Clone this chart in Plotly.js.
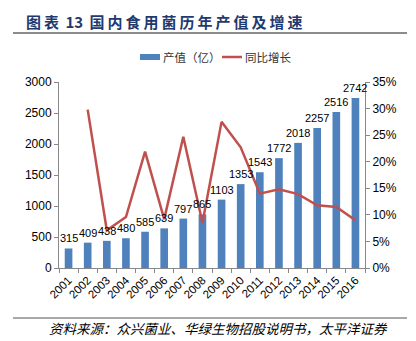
<!DOCTYPE html>
<html><head><meta charset="utf-8">
<script src="https://cdn.plot.ly/plotly-3.0.1.min.js"></script>
<style>html,body{margin:0;padding:0;background:#fff}#chart{width:416px;height:341px}</style>
</head><body><div id="chart"></div>
<script>
const years = ['2001','2002','2003','2004','2005','2006','2007','2008','2009','2010','2011','2012','2013','2014','2015','2016'];
const output = [315,409,438,480,585,639,797,865,1103,1353,1543,1772,2018,2257,2516,2742];
const growth = [null,0.298,0.071,0.096,0.219,0.092,0.247,0.085,0.275,0.227,0.140,0.148,0.139,0.118,0.115,0.090];
const seriesNames = ['产值（亿）','同比增长'];
const titleText = '图表 13 国内食用菌历年产值及增速';
const sourceText = '资料来源：众兴菌业、华绿生物招股说明书，太平洋证券';

const L=59,R=365,T=82,B=268,W=R-L,H=B-T;
const px=x=>(x-L)/W, py=y=>(B-y)/H;
const cjk='Noto Sans CJK SC, Liberation Sans, sans-serif';
const num='Liberation Sans, Arial, sans-serif';
const spaced=s=>s.replace(/ /g,'\u00a0\u2009').replace(/([\u4e00-\u9fff])(?=[\u4e00-\u9fff])/g,'$1\u2009');
const data=[
 {type:'bar',x:years,y:output,name:seriesNames[0],marker:{color:'#4F81BD'},width:0.4,showlegend:false},
 {type:'scatter',mode:'lines',x:years,y:growth,name:seriesNames[1],yaxis:'y2',showlegend:false,
  line:{color:'#C0504D',width:2.5}}
];
const labelAnns = output.map((v,i)=>({x:i,y:v,xref:'x',yref:'y',text:String(v),showarrow:false,
  yanchor:'bottom',yshift:2,font:{family:num,size:11,color:'#000'}}));
const layout={
 width:416,height:341,margin:{l:L,r:416-R,t:T,b:341-B},
 paper_bgcolor:'#fff',plot_bgcolor:'#fff',showlegend:false,
 font:{family:num,size:11.5,color:'#000'},
 xaxis:{type:'category',range:[-0.5,15.5],showline:true,linecolor:'#888',ticks:'outside',tickson:'boundaries',
   ticklen:4,tickcolor:'#888',tickangle:-45,tickfont:{size:11.5},showgrid:false,zeroline:false},
 yaxis:{range:[0,3000],dtick:500,showline:true,linecolor:'#888',ticks:'outside',ticklen:4,tickcolor:'#888',
   showgrid:false,zeroline:false,tickfont:{size:12}},
 yaxis2:{range:[0,0.35],dtick:0.05,tickformat:'.0%',overlaying:'y',side:'right',showline:true,linecolor:'#888',
   ticks:'outside',ticklen:4,tickcolor:'#888',showgrid:false,zeroline:false,tickfont:{size:12}},
 shapes:[
  {type:'line',xref:'paper',yref:'paper',x0:px(13),x1:px(407),y0:py(33),y1:py(33),line:{color:'#8c8c8c',width:2}},
  {type:'line',xref:'paper',yref:'paper',x0:px(13),x1:px(407),y0:py(318),y1:py(318),line:{color:'#8c8c8c',width:1.5}},
  {type:'rect',xref:'paper',yref:'paper',x0:px(140),x1:px(160),y0:py(54),y1:py(60),fillcolor:'#4F81BD',line:{width:0}},
  {type:'line',xref:'paper',yref:'paper',x0:px(222),x1:px(242),y0:py(57),y1:py(57),line:{color:'#C0504D',width:2.5}}
 ],
 annotations:[
  {xref:'paper',yref:'paper',x:px(24),y:py(21),xanchor:'left',yanchor:'middle',showarrow:false,
   text:'<b>'+spaced(titleText)+'</b>',font:{family:cjk,size:15,color:'#1F3A6E'}},
  {xref:'paper',yref:'paper',x:px(47),y:py(328),xanchor:'left',yanchor:'middle',showarrow:false,
   text:'<i>'+sourceText+'</i>',font:{family:cjk,size:13.5,color:'#000'}},
  {xref:'paper',yref:'paper',x:px(161),y:py(57),xanchor:'left',yanchor:'middle',showarrow:false,
   text:seriesNames[0],font:{family:cjk,size:11.5,color:'#333'}},
  {xref:'paper',yref:'paper',x:px(243),y:py(57),xanchor:'left',yanchor:'middle',showarrow:false,
   text:seriesNames[1],font:{family:cjk,size:11.5,color:'#333'}}
 ].concat(labelAnns)
};
Plotly.newPlot('chart',data,layout,{displayModeBar:false,staticPlot:true});
</script></body></html>
